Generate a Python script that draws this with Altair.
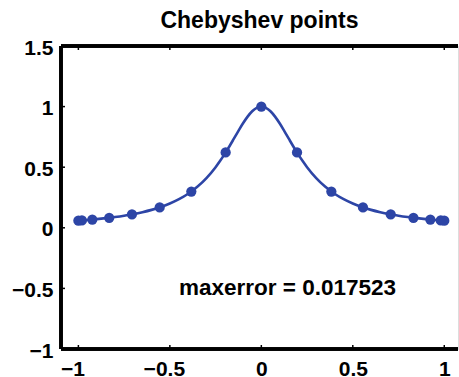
import altair as alt
import pandas as pd

# Interpolant of u(x) = 1/(1+16x^2) through the 17 Chebyshev points
curve_x = [-1.0, -0.95, -0.9, -0.85, -0.8, -0.75, -0.7, -0.65, -0.6, -0.55,
           -0.5, -0.45, -0.4, -0.35, -0.3, -0.25, -0.225, -0.2, -0.175, -0.15,
           -0.125, -0.1, -0.075, -0.05, -0.025, 0.0,
           0.025, 0.05, 0.075, 0.1, 0.125, 0.15, 0.175, 0.2, 0.225, 0.25,
           0.3, 0.35, 0.4, 0.45, 0.5, 0.55, 0.6, 0.65, 0.7, 0.75,
           0.8, 0.85, 0.9, 0.95, 1.0]
curve_y = [0.0588, 0.0648, 0.0716, 0.0796, 0.0890, 0.1000, 0.1131, 0.1289, 0.1479, 0.1712,
           0.2000, 0.2358, 0.2809, 0.3378, 0.4098, 0.5000, 0.5525, 0.6098, 0.6711, 0.7353,
           0.8000, 0.8621, 0.9174, 0.9615, 0.9901, 1.0,
           0.9901, 0.9615, 0.9174, 0.8621, 0.8000, 0.7353, 0.6711, 0.6098, 0.5525, 0.5000,
           0.4098, 0.3378, 0.2809, 0.2358, 0.2000, 0.1712, 0.1479, 0.1289, 0.1131, 0.1000,
           0.0890, 0.0796, 0.0716, 0.0648, 0.0588]

# Chebyshev grid points and sampled values
cheb_x = [-1.0, -0.9808, -0.9239, -0.8315, -0.7071, -0.5556, -0.3827, -0.1951, 0.0,
          0.1951, 0.3827, 0.5556, 0.7071, 0.8315, 0.9239, 0.9808, 1.0]
cheb_y = [0.0588, 0.0610, 0.0682, 0.0829, 0.1111, 0.1684, 0.2991, 0.6215, 1.0,
          0.6215, 0.2991, 0.1684, 0.1111, 0.0829, 0.0682, 0.0610, 0.0588]

x_ticks = [-1, -0.5, 0, 0.5, 1]
y_ticks = [-1, -0.5, 0, 0.5, 1, 1.5]

note_x = [-0.45]
note_y = [-0.5]
note_text = ["maxerror = 0.017523"]

title_text = ["Chebyshev points"]

W, H = 397, 303
BLUE = "#2D45A6"
FONT = "Liberation Sans"
FS = 21

curve = pd.DataFrame({"x": curve_x, "y": curve_y})
pts = pd.DataFrame({"x": cheb_x, "y": cheb_y})
xt = pd.DataFrame({"t": x_ticks})
yt = pd.DataFrame({"t": y_ticks})
note = pd.DataFrame({"x": note_x, "y": note_y, "label": note_text})
ttl = pd.DataFrame({"label": title_text})

xs = alt.Scale(domain=[-1.095, 1.075], nice=False, zero=False)
ys = alt.Scale(domain=[-1, 1.5], nice=False, zero=False)

xaxis = alt.Axis(values=x_ticks, format="~g", domain=False, ticks=False, grid=False,
                 labelFont=FONT, labelFontWeight="bold", labelFontSize=FS,
                 labelColor="black", labelPadding=9, title=None, labelFlush=False,
                 labelOffset=alt.condition("datum.value < 0", alt.value(-6), alt.value(0)))
yaxis = alt.Axis(values=y_ticks, format="~g", domain=False, ticks=False, grid=False,
                 labelFont=FONT, labelFontWeight="bold", labelFontSize=FS,
                 labelColor="black", labelPadding=8, labelOffset=2, title=None)

line = alt.Chart(curve).mark_line(color=BLUE, strokeWidth=2.6, interpolate="monotone").encode(
    x=alt.X("x:Q", scale=xs, axis=xaxis),
    y=alt.Y("y:Q", scale=ys, axis=yaxis),
)

dots = alt.Chart(pts).mark_circle(color=BLUE, opacity=1, size=105).encode(
    x=alt.X("x:Q", scale=xs),
    y=alt.Y("y:Q", scale=ys),
)

# Box frame: left, bottom, top edges
frame_left = alt.Chart(xt).mark_rule(color="black", strokeWidth=3).encode(
    x=alt.value(0), y=alt.value(0), y2=alt.value(H))
frame_bottom = alt.Chart(xt).mark_rule(color="black", strokeWidth=3).encode(
    x=alt.value(0), x2=alt.value(W), y=alt.value(H))
frame_top = alt.Chart(xt).mark_rule(color="black", strokeWidth=3).encode(
    x=alt.value(0), x2=alt.value(W), y=alt.value(0))

# Inward ticks
xtick_bottom = alt.Chart(xt).mark_rule(color="black", strokeWidth=1.5).encode(
    x=alt.X("t:Q", scale=xs), y=alt.value(H), y2=alt.value(H - 4))
xtick_top = alt.Chart(xt).mark_rule(color="black", strokeWidth=1.5).encode(
    x=alt.X("t:Q", scale=xs), y=alt.value(0), y2=alt.value(4))
ytick_left = alt.Chart(yt).mark_rule(color="black", strokeWidth=1.5).encode(
    y=alt.Y("t:Q", scale=ys), x=alt.value(0), x2=alt.value(4))

label = alt.Chart(note).mark_text(align="left", baseline="middle", font=FONT,
                                  fontWeight="bold", fontSize=22.5, color="black").encode(
    x=alt.X("x:Q", scale=xs), y=alt.Y("y:Q", scale=ys), text="label:N")

# Chart heading, centred over the plot area
heading = alt.Chart(ttl).mark_text(align="center", baseline="alphabetic", font=FONT,
                                   fontWeight="bold", fontSize=23, color="black").encode(
    x=alt.value(W / 2), y=alt.value(-18.5), text="label:N")

chart = alt.layer(
    line, dots, label, frame_left, frame_bottom, frame_top,
    xtick_bottom, xtick_top, ytick_left, heading,
).properties(
    width=W, height=H,
    autosize=alt.AutoSizeParams(type="none"),
    padding={"left": 61, "top": 46, "right": 1, "bottom": 28},
).configure_view(stroke=None, clip=False).configure(background="white")

chart.save("out.html", embed_options={"renderer": "svg", "actions": False})
